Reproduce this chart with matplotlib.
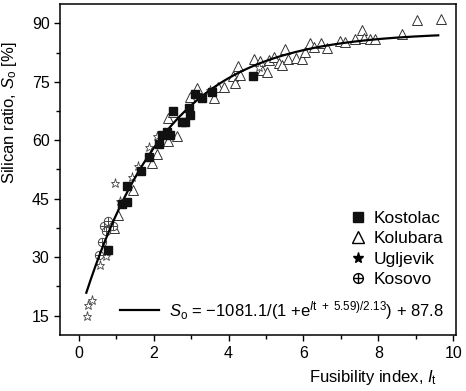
import numpy as np
import matplotlib
matplotlib.use("Agg")
import matplotlib.pyplot as plt
from matplotlib.lines import Line2D
from matplotlib.ticker import MultipleLocator
from matplotlib.legend_handler import HandlerTuple

plt.rcParams['font.family'] = ['Liberation Sans', 'DejaVu Sans']
plt.rcParams['mathtext.fontset'] = 'custom'
plt.rcParams['mathtext.rm'] = 'Liberation Sans'
plt.rcParams['mathtext.it'] = 'Liberation Sans:italic'

# measured samples per coal basin: fusibility index It, silica ratio So [%]
kostolac_x = [0.79, 1.14, 1.28, 1.28, 1.65, 1.88, 2.15, 2.23, 2.35, 2.44, 2.52,
              2.75, 2.84, 2.93, 2.97, 3.10, 3.29, 3.55, 4.65]
kostolac_y = [31.9, 43.7, 44.1, 48.2, 52.0, 55.8, 59.1, 61.4, 62.2, 61.4, 67.4,
              64.8, 64.8, 68.2, 66.5, 71.9, 70.8, 72.5, 76.6]

kolubara_x = [0.95, 1.05, 1.46, 1.95, 2.10, 2.39, 2.39, 2.62, 2.52, 2.97, 3.15,
              3.60, 3.73, 3.87, 4.13, 4.18, 4.24, 4.30, 4.67, 4.85, 4.89, 5.03,
              5.07, 5.22, 5.34, 5.43, 5.52, 5.58, 5.79, 5.96, 6.05, 6.17, 6.29,
              6.47, 6.62, 6.97, 7.10, 7.37, 7.57, 7.63, 7.78, 7.90, 8.64, 9.04,
              9.67]
kolubara_y = [37.6, 40.9, 47.3, 54.1, 56.5, 59.7, 65.7, 61.0, 67.2, 71.2, 73.3,
              70.8, 73.6, 73.6, 76.5, 74.6, 79.1, 76.8, 80.8, 80.4, 78.0, 77.4,
              80.6, 81.5, 79.8, 79.3, 83.3, 80.8, 81.0, 80.8, 82.7, 84.9, 83.9,
              84.9, 83.6, 85.6, 85.3, 85.9, 88.3, 86.3, 85.9, 85.9, 87.2, 90.9,
              91.1]

ugljevik_x = [0.22, 0.25, 0.34, 0.56, 0.72, 0.96, 1.10, 1.41, 1.59, 1.88, 2.08,
              3.50, 4.80]
ugljevik_y = [14.8, 17.6, 19.0, 27.9, 30.4, 49.0, 44.3, 50.7, 53.3, 58.4, 61.0,
              72.8, 78.9]

kosovo_x = [0.54, 0.61, 0.67, 0.72, 0.79, 0.90]
kosovo_y = [30.6, 33.9, 37.9, 36.6, 39.2, 37.9]

# fitted curve So = -1081.1/(1 + exp((It + 5.59)/2.13)) + 87.8
fit_a, fit_b, fit_c, fit_d = -1081.1, 5.59, 2.13, 87.8
it = np.linspace(0.2, 9.6, 300)
so = fit_a / (1 + np.exp((it + fit_b) / fit_c)) + fit_d

fig = plt.figure(figsize=(4.66, 3.91), dpi=100)
ax = fig.add_axes([0.129, 0.143, 0.850, 0.847])

ax.plot(it, so, color='black', lw=1.6, zorder=3)
ax.plot(kolubara_x, kolubara_y, ls='none', marker='^', ms=6.5, mfc='white',
        mec='#333333', mew=0.7, zorder=2)
ax.plot(ugljevik_x, ugljevik_y, ls='none', marker='*', ms=6.5, mfc='white',
        mec='#444444', mew=0.6, zorder=2)
ax.plot(kosovo_x, kosovo_y, ls='none', marker='o', ms=6, mfc='white',
        mec='#444444', mew=0.7, zorder=2)
ax.plot(kosovo_x, kosovo_y, ls='none', marker='+', ms=6, mec='#444444',
        mew=0.7, zorder=2)
ax.plot(kostolac_x, kostolac_y, ls='none', marker='s', ms=5.5, mfc='#111111',
        mec='#111111', zorder=4)

ax.set_xlim(-0.5, 10.08)
ax.set_ylim(10, 95)
ax.xaxis.set_major_locator(MultipleLocator(2))
ax.xaxis.set_minor_locator(MultipleLocator(1))
ax.yaxis.set_major_locator(MultipleLocator(15))
ax.yaxis.set_minor_locator(MultipleLocator(7.5))
ax.tick_params(which='major', direction='out', length=4, width=1, labelsize=11.5)
ax.tick_params(which='minor', direction='out', length=3, width=1)
for sp in ax.spines.values():
    sp.set_linewidth(1.1)

ax.set_xlabel(r'Fusibility index, $I_\mathrm{t}$', fontsize=12)
ax.xaxis.set_label_coords(0.79, -0.1)
ax.set_ylabel(r'Silican ratio, $S_\mathrm{o}$ [%]', fontsize=12)
ax.yaxis.set_label_coords(-0.105, 0.67)

h_kost = Line2D([], [], ls='none', marker='s', ms=7, mfc='#111111', mec='#111111')
h_kolu = Line2D([], [], ls='none', marker='^', ms=8, mfc='white', mec='black', mew=1)
h_uglj = Line2D([], [], ls='none', marker='*', ms=8, mfc='black', mec='black')
h_kos1 = Line2D([], [], ls='none', marker='o', ms=7, mfc='white', mec='black', mew=1)
h_kos2 = Line2D([], [], ls='none', marker='+', ms=7, mec='black', mew=1)
leg1 = ax.legend([h_kost, h_kolu, h_uglj, (h_kos1, h_kos2)],
                 ['Kostolac', 'Kolubara', 'Ugljevik', 'Kosovo'],
                 handler_map={tuple: HandlerTuple(ndivide=1)},
                 loc='lower left', bbox_to_anchor=(0.718, 0.124), frameon=False,
                 fontsize=12.5, handlelength=0.8, handletextpad=0.5,
                 labelspacing=0.3, borderaxespad=0)
ax.add_artist(leg1)

h_fit = Line2D([], [], color='black', lw=1.6)
eq = r'$S_\mathrm{o}$ = −1081.1/(1 +e$^{I\mathrm{t}\ +\ 5.59)/2.13}$) + 87.8'
ax.legend([h_fit], [eq], loc='center right', bbox_to_anchor=(0.985, 0.075),
          frameon=False, fontsize=12, handlelength=2.3, handletextpad=0.6,
          borderaxespad=0)

fig.savefig('out.png', dpi=100)
